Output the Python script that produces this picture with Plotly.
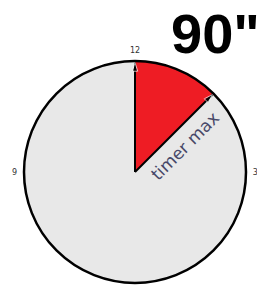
import plotly.graph_objects as go

# data
dial_max_seconds = 720          # 12 on the dial = 12 minutes
timer_max_seconds = 90
hand_seconds = [0, timer_max_seconds]
clock_hours = [0, 3, 9]
clock_labels = ["12", "3", "9"]
big_label = '90"'
hand_label = "timer max"

def to_deg(s):
    return s / dial_max_seconds * 360

fig = go.Figure()

fig.add_trace(go.Barpolar(
    r=[1],
    theta=[to_deg(timer_max_seconds) / 2],
    width=[to_deg(timer_max_seconds)],
    marker=dict(color="#ee1c24", line=dict(width=0)),
    hoverinfo="skip",
    showlegend=False,
))

for s in hand_seconds:
    fig.add_trace(go.Scatterpolar(
        r=[0, 0.985],
        theta=[to_deg(s), to_deg(s)],
        mode="lines+markers",
        line=dict(color="black", width=2),
        marker=dict(symbol=["circle", "arrow"], size=[0, 9], color="black",
                    angle=[0, to_deg(s)]),
        hoverinfo="skip",
        showlegend=False,
    ))

fig.update_layout(
    width=257, height=286,
    margin=dict(l=0, r=0, t=0, b=0),
    paper_bgcolor="white",
    polar=dict(
        domain=dict(x=[24 / 257, 246 / 257], y=[3 / 286, 225 / 286]),
        bgcolor="#e8e8e8",
        radialaxis=dict(range=[0, 1], visible=False),
        angularaxis=dict(
            rotation=90, direction="clockwise",
            tickmode="array",
            tickvals=[h * 30 for h in clock_hours],
            ticktext=clock_labels,
            showgrid=False, ticks="outside", ticklen=4,
            tickcolor="rgba(0,0,0,0)",
            linecolor="black", linewidth=2.5,
            tickfont=dict(size=8, color="#333333", family="DejaVu Sans"),
        ),
    ),
    annotations=[
        dict(text=big_label, xref="paper", yref="paper",
             x=169 / 257, y=1 - 33 / 286, xanchor="left", yanchor="middle",
             showarrow=False,
             font=dict(size=56, family="Liberation Sans", color="black", weight="bold")),
        dict(text=hand_label, xref="paper", yref="paper",
             x=185 / 257, y=1 - 146 / 286, xanchor="center", yanchor="middle",
             textangle=-45, showarrow=False,
             font=dict(size=17, family="DejaVu Sans", color="#484868")),
    ],
)

fig.write_html("out.html", config={"displayModeBar": False},
               post_script="document.body.style.margin='0';document.body.style.overflow='hidden';")
